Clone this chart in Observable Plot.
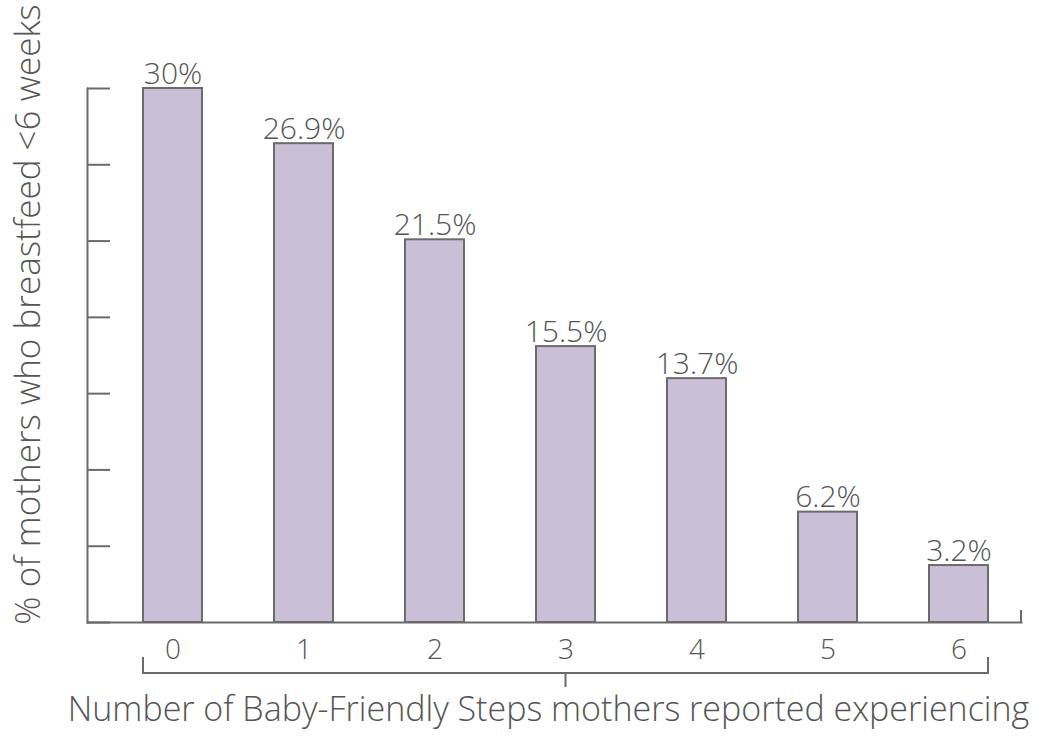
<!DOCTYPE html>
<html>
<head>
<meta charset="utf-8">
<script src="https://cdn.jsdelivr.net/npm/d3@7"></script>
<script src="https://cdn.jsdelivr.net/npm/@observablehq/plot@0.6"></script>
<style>
  html, body { margin: 0; padding: 0; background: #fff; }
  svg { display: block; }
</style>
</head>
<body>
<div id="chart"></div>
<script>
const steps = ["0", "1", "2", "3", "4", "5", "6"];
const values = [30, 26.9, 21.5, 15.5, 13.7, 6.2, 3.2];
const valueLabels = ["30%", "26.9%", "21.5%", "15.5%", "13.7%", "6.2%", "3.2%"];
const yTickValues = [0, 30/7, 60/7, 90/7, 120/7, 150/7, 180/7, 30];
const xTitle = "Number of Baby-Friendly Steps mothers reported experiencing";
const yTitle = "% of mothers who breastfeed <6 weeks";

const data = steps.map((s, i) => ({step: s, value: values[i], label: valueLabels[i]}));

const gray = "#6b6b6b";
const textGray = "#555555";
const font = "'Open Sans', Lato, sans-serif";

const plot = Plot.plot({
  width: 1059,
  height: 739,
  marginLeft: 87,
  marginRight: 38,
  marginTop: 88,
  marginBottom: 117,
  style: {fontFamily: font, background: "#fff"},
  x: {domain: steps, paddingInner: 0.55, paddingOuter: 0.3315, align: 0.632},
  y: {domain: [0, 30]},
  marks: [
    Plot.barY(data, {x: "step", y: "value", fill: "#cbbfd8", stroke: gray, strokeWidth: 2}),
    Plot.text(data, {x: "step", y: "value", text: "label", lineAnchor: "bottom", dy: -5, fontSize: 30, fontWeight: 300, fill: textGray}),
    Plot.axisY({ticks: yTickValues, tickSize: -23, tickFormat: () => "", label: null, stroke: gray, strokeWidth: 2}),
    Plot.axisX({tickSize: 0, tickPadding: 17, fontSize: 28, fontWeight: 300, label: null, color: textGray}),
    Plot.frame({anchor: "left", stroke: gray, strokeWidth: 2}),
    Plot.frame({anchor: "bottom", stroke: gray, strokeWidth: 2}),
    Plot.text([yTitle], {frameAnchor: "left", textAnchor: "middle", rotate: -90, dx: -59, dy: -41, fontSize: 35, fontWeight: 300, fill: textGray}),
    Plot.text([xTitle], {frameAnchor: "bottom", dy: 98, dx: -6, fontSize: 34, fontWeight: 300, fill: textGray})
  ]
});

// Decorative bracket and right-end tick, positioned through the plot's own scales
const xs = plot.scale("x");
const ys = plot.scale("y");
const bw = xs.bandwidth;
const left = xs.apply(steps[0]);
const right = xs.apply(steps[steps.length - 1]) + bw;
const base = ys.apply(0);
const frameRight = xs.range[1];
const svg = d3.select(plot);
const g = svg.append("g").attr("fill", "none").attr("stroke", gray).attr("stroke-width", 2);
const by = base + 51;
g.append("path").attr("d", `M${left},${by - 16}V${by}H${right}V${by - 16}`);
g.append("path").attr("d", `M${(left + right) / 2},${by}V${by + 14}`);
g.append("path").attr("d", `M${frameRight},${base}V${base - 12}`);

document.getElementById("chart").appendChild(plot);
</script>
</body>
</html>
